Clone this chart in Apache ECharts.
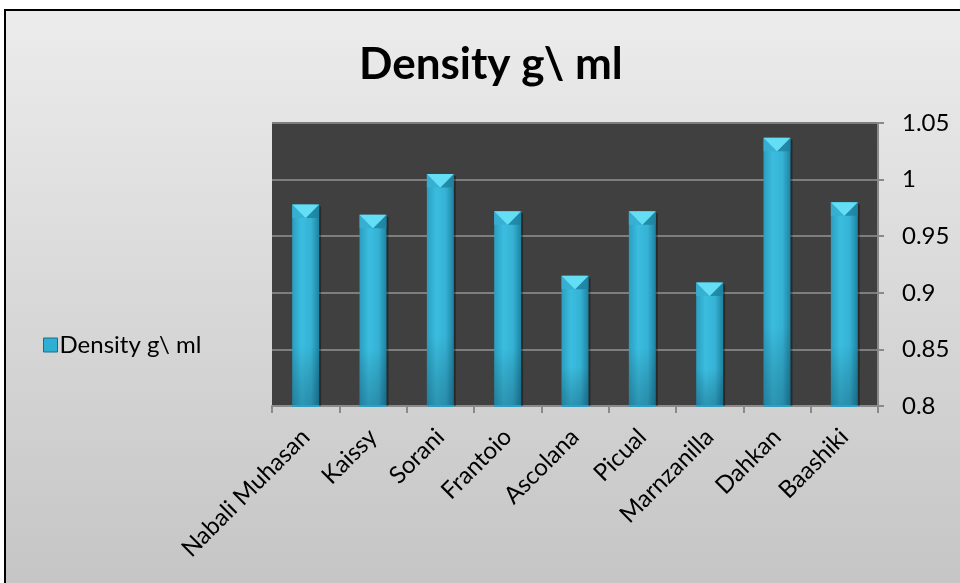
<!DOCTYPE html>
<html>
<head>
<meta charset="utf-8">
<script src="https://cdn.jsdelivr.net/npm/echarts@6/dist/echarts.min.js"></script>
<style>
  html, body { margin: 0; padding: 0; background: #ffffff; }
  #chart { width: 960px; height: 583px; }
</style>
</head>
<body>
<div id="chart"></div>
<script>
// Olive oil cultivars and their measured density (g/ml)
const cultivars = ['Nabali Muhasan', 'Kaissy', 'Sorani', 'Frantoio', 'Ascolana', 'Picual', 'Marnzanilla', 'Dahkan', 'Baashiki'];
const density = [0.978, 0.969, 1.005, 0.972, 0.915, 0.972, 0.909, 1.037, 0.980];
const seriesName = 'Density g\\ ml';
const yMin = 0.8, yMax = 1.05, yStep = 0.05;

const FONT = 'Lato, "Open Sans", sans-serif';

const chart = echarts.init(document.getElementById('chart'), null, { renderer: 'canvas' });

// Bevelled column: a shaded body plus a lighter down-pointing facet at its top
function renderBar(params, api) {
  const idx = api.value(0);
  const val = api.value(1);
  const top = api.coord([idx, val]);
  const base = api.coord([idx, yMin]);
  const w = api.size([1, 0])[0] * 0.4;
  const x0 = top[0] - w / 2, x1 = top[0] + w / 2;
  const yTop = top[1], yBase = base[1];
  const facet = Math.min(w * 0.5, yBase - yTop);
  return {
    type: 'group',
    children: [
      {
        type: 'rect',
        shape: { x: x0 + 2, y: yTop + 2, width: w, height: yBase - yTop - 2 },
        style: { fill: 'rgba(0,0,0,0.35)' }
      },
      {
        type: 'rect',
        shape: { x: x0, y: yTop, width: w, height: yBase - yTop },
        style: {
          fill: new echarts.graphic.LinearGradient(0, 0, 1, 0, [
            { offset: 0, color: '#2a9fc0' },
            { offset: 0.35, color: '#3bbde0' },
            { offset: 0.7, color: '#35b2d4' },
            { offset: 1, color: '#1e83a2' }
          ])
        }
      },
      {
        type: 'rect',
        shape: { x: x0, y: yTop, width: w, height: yBase - yTop },
        style: {
          fill: new echarts.graphic.LinearGradient(0, 0, 0, 1, [
            { offset: 0, color: 'rgba(0,0,0,0)' },
            { offset: 0.7, color: 'rgba(0,0,0,0)' },
            { offset: 1, color: 'rgba(0,30,50,0.25)' }
          ])
        }
      },
      {
        type: 'polygon',
        shape: { points: [[x0, yTop], [top[0], yTop + facet], [x0, yTop + facet]] },
        style: { fill: 'rgba(55,175,210,0.9)' }
      },
      {
        type: 'polygon',
        shape: { points: [[x1, yTop], [top[0], yTop + facet], [x1, yTop + facet]] },
        style: { fill: 'rgba(30,130,160,0.8)' }
      },
      {
        type: 'polygon',
        shape: { points: [[x0, yTop], [x1, yTop], [top[0], yTop + facet]] },
        style: { fill: '#64def5' }
      },
      {
        type: 'line',
        shape: { x1: x0, y1: yBase, x2: x1, y2: yBase },
        style: { stroke: '#2d9fc2', lineWidth: 2 }
      }
    ]
  };
}

const option = {
  animation: false,
  graphic: [
    {
      type: 'rect',
      z: -10,
      shape: { x: 5, y: 10, width: 1000, height: 620 },
      style: {
        fill: new echarts.graphic.LinearGradient(0, 0, 0, 1, [
          { offset: 0, color: '#ececec' },
          { offset: 1, color: '#c2c2c2' }
        ]),
        stroke: '#000000',
        lineWidth: 2
      }
    }
  ],
  title: {
    text: seriesName,
    left: 354,
    top: 38,
    textStyle: { fontFamily: FONT, fontWeight: 'bold', fontSize: 44, color: '#000000' }
  },
  legend: {
    left: 38,
    top: 328,
    orient: 'vertical',
    icon: 'rect',
    itemWidth: 14,
    itemHeight: 14,
    itemGap: 6,
    data: [{ name: seriesName, itemStyle: { color: '#2fb0d3', borderColor: '#1a6f88', borderWidth: 1 } }],
    textStyle: { fontFamily: FONT, fontSize: 24, color: '#000000', padding: [0, 0, 0, -3] }
  },
  grid: {
    left: 272,
    right: 82,
    top: 123,
    bottom: 177,
    show: true,
    backgroundColor: '#404040',
    borderWidth: 0
  },
  xAxis: {
    type: 'category',
    data: cultivars,
    axisLine: { lineStyle: { color: '#8a8a8a', width: 2 } },
    axisTick: { show: true, length: 7, lineStyle: { color: '#8a8a8a', width: 2 } },
    axisLabel: {
      rotate: 45,
      margin: 27,
      interval: 0,
      fontFamily: FONT,
      fontSize: 24,
      color: '#000000'
    }
  },
  yAxis: {
    type: 'value',
    position: 'right',
    min: yMin,
    max: yMax,
    interval: yStep,
    axisLine: { show: true, lineStyle: { color: '#8a8a8a', width: 2 } },
    axisTick: { show: true, length: 6, lineStyle: { color: '#8a8a8a', width: 2 } },
    splitLine: { show: true, lineStyle: { color: '#7e7e7e', width: 2 } },
    axisLabel: {
      margin: 24,
      fontFamily: FONT,
      fontSize: 24,
      color: '#000000',
      formatter: v => String(parseFloat(v.toFixed(2)))
    }
  },
  series: [
    {
      name: seriesName,
      type: 'custom',
      renderItem: renderBar,
      encode: { x: 0, y: 1 },
      data: cultivars.map((c, i) => [i, density[i]])
    }
  ]
};

chart.setOption(option);
</script>
</body>
</html>
